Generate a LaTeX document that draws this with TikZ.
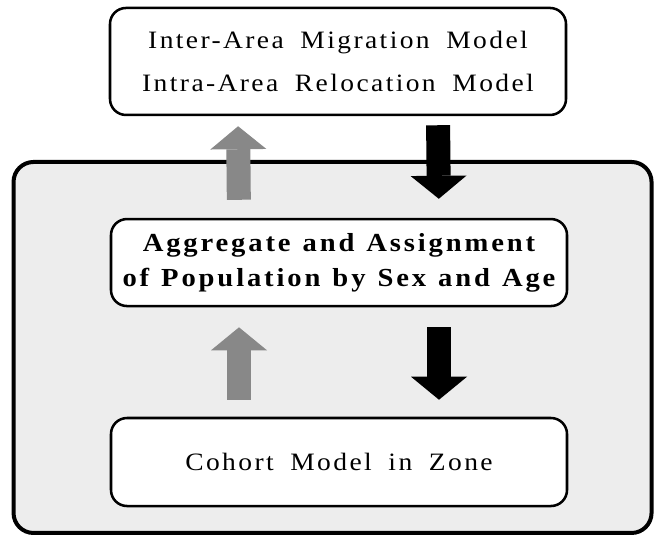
\documentclass[tikz,border=0pt]{standalone}
\usepackage{fontspec}
\setmainfont{Liberation Serif}
\newfontfamily\spacedfont[FakeStretch=1.1, LetterSpace=9.6, WordSpace=1.8]{Liberation Serif}
\newfontfamily\boldspaced[FakeStretch=1.1, LetterSpace=11, WordSpace=1.2]{Liberation Serif}
\usetikzlibrary{arrows.meta, positioning}
\definecolor{zonegray}{RGB}{237, 237, 237}
\definecolor{arrowgray}{RGB}{136, 136, 136}

\begin{document}
\begin{tikzpicture}[
  zonebox/.style={draw=black, fill=zonegray, rounded corners=15pt, line width=3pt, minimum width=478.5pt, minimum height=278.25pt},
  mbox/.style={draw=black, fill=white, rounded corners=12pt, line width=1.9pt, minimum width=342pt, align=center, inner sep=0pt},
  blockarr/.style={line width=18pt, -{Triangle[length=17.25pt, width=42pt, line width=0pt 0 0]}},
  uparr/.style={blockarr, draw=arrowgray},
  downarr/.style={blockarr, draw=black}
]
  \useasboundingbox[fill=white] (0,0) rectangle (491.25pt,-402.75pt);
  \node[zonebox] (zone) at (249.4pt,-260.6pt) {};
  \node[mbox, minimum height=80.25pt, font=\fontsize{18.75}{32.25}\spacedfont] (migr) at (253.5pt,-46.1pt) {Inter-Area Migration Model\\Intra-Area Relocation Model};
  \node[mbox, minimum height=65.25pt, font=\fontsize{19.5}{26.25}\boldspaced\bfseries] (aggr) at (254.25pt,-196.9pt) {Aggregate and Assignment\\of Population by Sex and Age};
  \node[mbox, minimum height=66pt, font=\fontsize{18.75}{26}\spacedfont] (cohort) at (254.25pt,-346.5pt) {Cohort Model in Zone};
  \draw[uparr, shorten <=13.5pt, shorten >=7.5pt] ([xshift=-75pt]aggr.north) -- ([xshift=-75pt]migr.south);
  \draw[downarr, shorten <=6.75pt, shorten >=14.25pt] ([xshift=75pt]migr.south) -- ([xshift=75pt]aggr.north);
  \draw[uparr, shorten <=12.75pt, shorten >=15pt] ([xshift=-75pt]cohort.north) -- ([xshift=-75pt]aggr.south);
  \draw[downarr, shorten <=15pt, shorten >=12.75pt] ([xshift=75pt]aggr.south) -- ([xshift=75pt]cohort.north);
\end{tikzpicture}
\end{document}
